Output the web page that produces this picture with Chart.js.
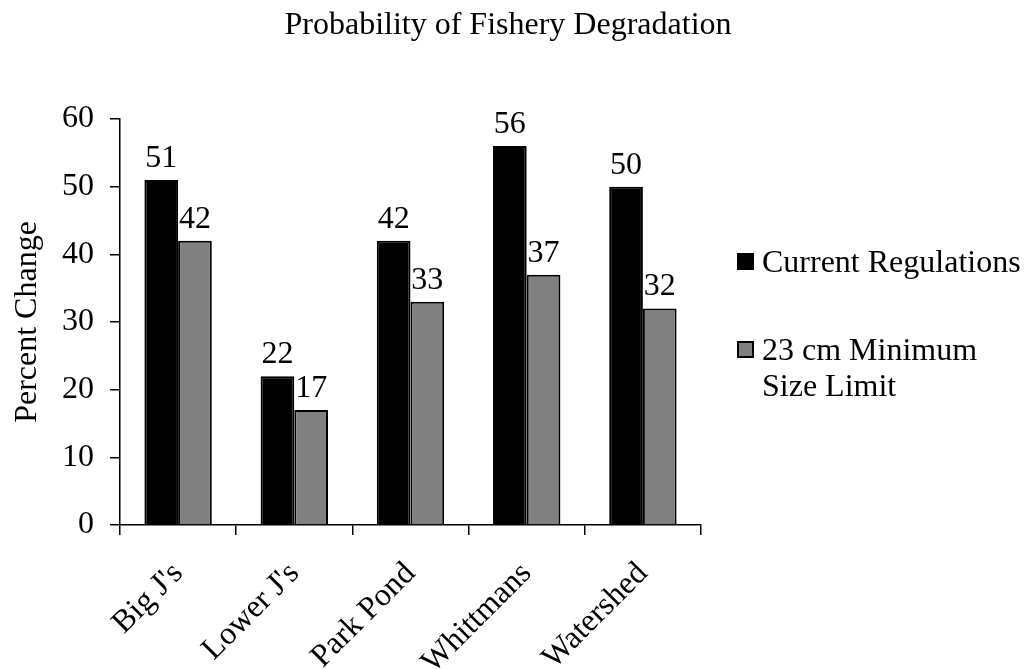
<!DOCTYPE html>
<html>
<head>
<meta charset="utf-8">
<script src="https://cdn.jsdelivr.net/npm/chart.js@4.4.1/dist/chart.umd.min.js"></script>
<style>
  html, body { margin: 0; padding: 0; background: #fff; }
  #wrap { width: 1024px; height: 669px; position: relative; }
</style>
</head>
<body>
<div id="wrap"><canvas id="c" width="1024" height="669"></canvas></div>
<script>
const categories = ["Big J's", "Lower J's", "Park Pond", "Whittmans", "Watershed"];
const currentRegulations = [51, 22, 42, 56, 50];
const minimumSizeLimit = [42, 17, 33, 37, 32];
const seriesNames = ["Current Regulations", "23 cm Minimum Size Limit"];
const legendLines = [["Current Regulations"], ["23 cm Minimum", "Size Limit"]];
const yTicks = [0, 10, 20, 30, 40, 50, 60];
const chartTitle = "Probability of Fishery Degradation";
const yTitle = "Percent Change";

const FONT = "'Liberation Serif', 'Times New Roman', serif";
const FS = 32;

const valueLabels = {
  id: 'valueLabels',
  afterDatasetsDraw(chart) {
    const ctx = chart.ctx;
    ctx.save();
    ctx.font = FS + 'px ' + FONT;
    ctx.fillStyle = '#000';
    ctx.textAlign = 'center';
    ctx.textBaseline = 'alphabetic';
    chart.data.datasets.forEach((ds, di) => {
      const meta = chart.getDatasetMeta(di);
      meta.data.forEach((el, i) => {
        ctx.fillText(String(ds.data[i]), el.x, el.y - 13);
      });
    });
    ctx.restore();
  }
};

const titleAndLegend = {
  id: 'titleAndLegend',
  afterDraw(chart) {
    const ctx = chart.ctx;
    ctx.save();
    ctx.font = FS + 'px ' + FONT;
    ctx.fillStyle = '#000';
    ctx.textAlign = 'center';
    ctx.textBaseline = 'alphabetic';
    ctx.fillText(chartTitle, 508, 34);

    ctx.textAlign = 'left';
    const x0 = 737, box = 17;
    const baselines = [272, 360];
    const lineH = 36;
    chart.data.datasets.forEach((ds, di) => {
      const b = baselines[di];
      ctx.fillStyle = ds.backgroundColor;
      ctx.fillRect(x0, b - box - 2, box, box);
      ctx.strokeStyle = '#000';
      ctx.lineWidth = 2;
      ctx.strokeRect(x0 + 1, b - box - 1, box - 2, box - 2);
      ctx.fillStyle = '#000';
      legendLines[di].forEach((t, li) => {
        ctx.fillText(t, x0 + 25, b + li * lineH);
      });
    });
    ctx.restore();
  }
};

new Chart(document.getElementById('c'), {
  type: 'bar',
  data: {
    labels: categories,
    datasets: [
      { label: seriesNames[0], data: currentRegulations, backgroundColor: '#000000', borderColor: '#000000', borderWidth: 2 },
      { label: seriesNames[1], data: minimumSizeLimit, backgroundColor: '#808080', borderColor: '#000000', borderWidth: 2 }
    ]
  },
  options: {
    responsive: false,
    animation: false,
    devicePixelRatio: 1,
    layout: { padding: { top: 119, right: 323, bottom: 0, left: 0 } },
    datasets: { bar: { categoryPercentage: 0.58, barPercentage: 1.0 } },
    plugins: {
      legend: { display: false },
      tooltip: { enabled: false },
      title: { display: false }
    },
    scales: {
      x: {
        grid: { display: true, offset: true, drawOnChartArea: false, drawTicks: true, tickLength: 10, color: '#000', lineWidth: 1.5 },
        border: { display: true, color: '#000', width: 1.5 },
        ticks: { color: '#000', font: { family: FONT, size: FS }, minRotation: 45, maxRotation: 45, padding: 20, autoSkip: false },
        afterFit(scale) { scale.height = 144; }
      },
      y: {
        min: 0, max: 60,
        afterBuildTicks(scale) { scale.ticks = yTicks.map(v => ({ value: v })); },
        grid: { display: true, drawOnChartArea: false, drawTicks: true, tickLength: 10, color: '#000', lineWidth: 1.5 },
        border: { display: true, color: '#000', width: 1.5 },
        ticks: { color: '#000', font: { family: FONT, size: FS }, padding: 16 },
        title: { display: true, text: yTitle, color: '#000', font: { family: FONT, size: FS, lineHeight: 1.2 }, padding: { top: 8, bottom: 0 } },
        afterFit(scale) { scale.width = 120; }
      }
    }
  },
  plugins: [valueLabels, titleAndLegend]
});
</script>
</body>
</html>
